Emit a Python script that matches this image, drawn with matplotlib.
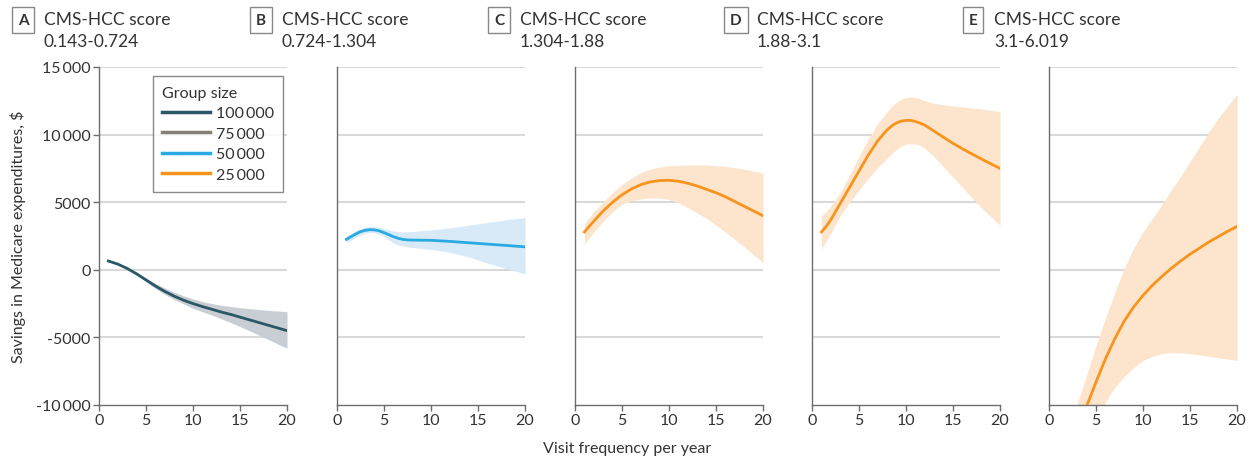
import matplotlib.pyplot as plt
import numpy as np

plt.rcParams['font.family'] = ['Lato', 'DejaVu Sans']

letters = ['A', 'B', 'C', 'D', 'E']
score_ranges = ['0.143-0.724', '0.724-1.304', '1.304-1.88', '1.88-3.1', '3.1-6.019']

# values in thousands of $
xa = [1, 2, 3, 4, 5, 6, 7, 8, 9, 10, 11, 12, 13, 14, 15, 16, 17, 18, 19, 20]
mean_a = [0.65, 0.42, 0.1, -0.3, -0.75, -1.2, -1.6, -1.95, -2.25, -2.5,
          -2.72, -2.92, -3.12, -3.3, -3.5, -3.7, -3.9, -4.1, -4.3, -4.5]
low_a = [0.6, 0.37, 0.04, -0.38, -0.88, -1.38, -1.82, -2.2, -2.52, -2.85,
         -3.1, -3.35, -3.62, -3.9, -4.2, -4.5, -4.82, -5.15, -5.48, -5.8]
up_a = [0.7, 0.47, 0.16, -0.22, -0.62, -1.0, -1.35, -1.65, -1.92, -2.15,
        -2.35, -2.5, -2.62, -2.72, -2.8, -2.87, -2.94, -3.0, -3.05, -3.1]

xb = [1, 1.5, 2, 2.5, 3, 3.5, 4, 4.5, 5, 5.5, 6, 6.5, 7, 7.5, 8, 9, 10, 12, 14, 16, 18, 20]
mean_b = [2.25, 2.45, 2.65, 2.82, 2.92, 2.97, 2.95, 2.88, 2.75, 2.6, 2.45,
          2.33, 2.25, 2.21, 2.2, 2.19, 2.18, 2.1, 2.0, 1.9, 1.8, 1.7]
low_b = [2.0, 2.2, 2.4, 2.58, 2.7, 2.76, 2.75, 2.62, 2.45, 2.22, 2.0,
         1.85, 1.75, 1.7, 1.65, 1.58, 1.5, 1.3, 0.95, 0.5, 0.1, -0.3]
up_b = [2.5, 2.7, 2.9, 3.05, 3.15, 3.2, 3.2, 3.14, 3.05, 2.95, 2.87,
        2.82, 2.8, 2.81, 2.83, 2.9, 2.95, 3.1, 3.3, 3.5, 3.7, 3.85]

xc = [1, 1.5, 2, 3, 4, 5, 6, 7, 8, 9, 10, 11, 12, 13, 14, 15, 16, 17, 18, 19, 20]
mean_c = [2.8, 3.2, 3.6, 4.35, 5.0, 5.55, 5.98, 6.3, 6.5, 6.6, 6.62, 6.55,
          6.4, 6.2, 5.95, 5.7, 5.4, 5.05, 4.7, 4.35, 4.0]
low_c = [1.9, 2.35, 2.8, 3.6, 4.3, 4.85, 5.1, 5.25, 5.3, 5.3, 5.2, 4.95,
         4.6, 4.2, 3.8, 3.3, 2.8, 2.25, 1.7, 1.1, 0.55]
up_c = [3.4, 3.85, 4.3, 5.0, 5.7, 6.3, 6.8, 7.2, 7.45, 7.6, 7.7, 7.73,
        7.75, 7.76, 7.75, 7.7, 7.65, 7.55, 7.45, 7.3, 7.15]

xd = [1, 1.5, 2, 3, 4, 5, 6, 7, 8, 8.5, 9, 9.5, 10, 10.5, 11, 11.5, 12, 13, 14, 15, 16, 18, 20]
mean_d = [2.8, 3.2, 3.7, 4.9, 6.1, 7.3, 8.5, 9.55, 10.35, 10.65, 10.87, 11.0, 11.05,
          11.05, 10.97, 10.85, 10.7, 10.25, 9.8, 9.35, 8.95, 8.2, 7.5]
low_d = [1.55, 2.1, 2.7, 4.0, 5.0, 5.9, 6.8, 7.55, 8.25, 8.6, 8.9, 9.15, 9.3,
         9.32, 9.3, 9.2, 9.0, 8.35, 7.6, 6.85, 6.1, 4.6, 3.3]
up_d = [4.0, 4.3, 4.7, 5.7, 7.0, 8.4, 9.7, 10.8, 11.7, 12.1, 12.4, 12.62, 12.75,
        12.78, 12.75, 12.65, 12.5, 12.3, 12.2, 12.12, 12.05, 11.9, 11.7]

xe = [1, 2, 3, 4, 5, 6, 7, 8, 9, 10, 11, 12, 13, 14, 15, 16, 17, 18, 19, 20]
mean_e = [-16.0, -13.8, -11.8, -10.1, -8.3, -6.6, -5.1, -3.8, -2.75, -1.9,
          -1.15, -0.5, 0.1, 0.65, 1.15, 1.6, 2.05, 2.45, 2.85, 3.2]
low_e = [-20.0, -18.0, -16.0, -14.0, -11.5, -9.8, -8.7, -7.9, -7.25, -6.7,
         -6.4, -6.2, -6.12, -6.15, -6.2, -6.3, -6.4, -6.5, -6.6, -6.7]
up_e = [-15.0, -12.5, -9.9, -7.8, -5.6, -3.6, -1.7, 0.1, 1.6, 2.8,
        3.8, 4.8, 5.9, 6.9, 8.0, 9.1, 10.2, 11.2, 12.1, 13.0]

group_sizes = ['100\u2009000', '75\u2009000', '50\u2009000', '25\u2009000']
group_colors = ['#2b5866', '#857f75', '#29abe2', '#f7941d']

panels = [
    (xa, mean_a, low_a, up_a, '#2b5866', '#c8ced3'),
    (xb, mean_b, low_b, up_b, '#29abe2', '#d8e9f7'),
    (xc, mean_c, low_c, up_c, '#f7941d', '#fde4cd'),
    (xd, mean_d, low_d, up_d, '#f7941d', '#fde4cd'),
    (xe, mean_e, low_e, up_e, '#f7941d', '#fde4cd'),
]

yticks = [-10000, -5000, 0, 5000, 10000, 15000]
ytick_labels = ['-10\u2009000', '-5000', '0', '5000', '10\u2009000', '15\u2009000']

W, H = 1249, 460
fig = plt.figure(figsize=(W / 100, H / 100), dpi=100)

lefts = [99, 337, 575, 812, 1049]
for i, (x, m, lo, up, lc, fc) in enumerate(panels):
    ax = fig.add_axes([lefts[i] / W, (H - 406) / H, 188 / W, 338 / H])
    x = np.array(x)
    ax.fill_between(x, np.array(lo) * 1000, np.array(up) * 1000, color=fc, lw=0, zorder=2)
    ax.plot(x, np.array(m) * 1000, color=lc, lw=2, zorder=3, solid_joinstyle='round')
    ax.set_xlim(0, 20)
    ax.set_ylim(-10000, 15000)
    for yv in yticks[1:]:
        ax.axhline(yv, color='#d9d9d9', lw=1.5, zorder=1)
    ax.set_xticks([0, 5, 10, 15, 20])
    ax.set_yticks(yticks)
    for s in ['top', 'right']:
        ax.spines[s].set_visible(False)
    for s in ['left', 'bottom']:
        ax.spines[s].set_color('#6d6d6d')
        ax.spines[s].set_linewidth(1)
    ax.tick_params(axis='x', colors='#6d6d6d', labelcolor='#333333', labelsize=11.5,
                   length=4, width=1, pad=2)
    if i == 0:
        ax.set_yticklabels(ytick_labels)
        ax.tick_params(axis='y', colors='#6d6d6d', labelcolor='#333333', labelsize=11.5,
                       length=4, width=1, pad=2)
    else:
        ax.tick_params(axis='y', left=False, labelleft=False)

    # panel letter and title
    fig.text((lefts[i] - 76) / W, 1 - 21 / H, letters[i], ha='center', va='center',
             fontsize=11, fontweight='bold', color='#333333',
             bbox=dict(boxstyle='square,pad=0.4', fc='white', ec='#888888', lw=1))
    fig.text((lefts[i] - 55) / W, 1 - 20 / H, 'CMS-HCC score', ha='left', va='center',
             fontsize=12.5, color='#333333')
    fig.text((lefts[i] - 55) / W, 1 - 42 / H, score_ranges[i], ha='left', va='center',
             fontsize=12.5, color='#333333')

    if i == 0:
        handles = [plt.Line2D([], [], color=c, lw=2.5) for c in group_colors]
        leg = ax.legend(handles, group_sizes, title='Group size', loc='upper left',
                        bbox_to_anchor=(0.285, 0.973), borderaxespad=0, fontsize=11.5,
                        title_fontsize=11.5, frameon=True, fancybox=False,
                        handlelength=3.0, handletextpad=0.35, labelspacing=0.4,
                        borderpad=0.6, alignment='left')
        leg.get_frame().set_edgecolor('#6d6d6d')
        leg.get_frame().set_linewidth(1)
        leg.set_zorder(5)
        for t in leg.get_texts():
            t.set_color('#333333')
        leg.get_title().set_color('#333333')

fig.text(18 / W, 1 - 237 / H, 'Savings in Medicare expenditures, $', rotation=90,
         ha='center', va='center', fontsize=11.5, color='#333333')
fig.text(627 / W, 1 - 449 / H, 'Visit frequency per year', ha='center', va='center',
         fontsize=11.5, color='#333333')

fig.savefig('out.png', dpi=100)
